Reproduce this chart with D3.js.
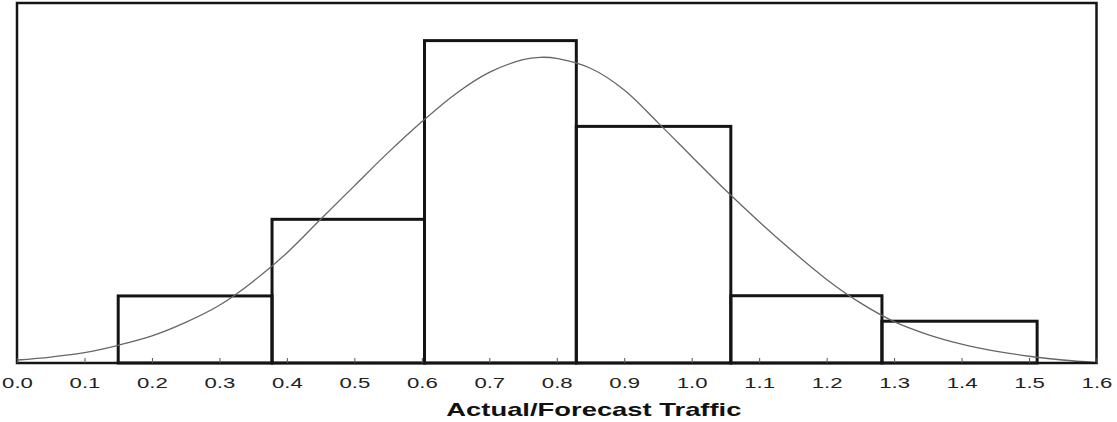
<!DOCTYPE html>
<html>
<head>
<meta charset="utf-8">
<script src="https://cdn.jsdelivr.net/npm/d3@7"></script>
<style>
  body { margin: 0; background: #fff; }
  svg { display: block; }
</style>
</head>
<body>
<div id="chart"></div>
<script>
// histogram bins (edges) and bar heights as density
var binEdges = [0.15, 0.378, 0.604, 0.829, 1.058, 1.282, 1.512]
var barDensity = [0.337, 0.722, 1.620, 1.189, 0.338, 0.210]

// fitted curve
var curveX = [0.0, 0.05, 0.1, 0.15, 0.2, 0.25, 0.3, 0.35, 0.4, 0.45, 0.5, 0.55, 0.6, 0.65, 0.7, 0.75, 0.775, 0.8, 0.85, 0.9, 0.95, 1.0, 1.05, 1.1, 1.15, 1.2, 1.25, 1.3, 1.35, 1.4, 1.45, 1.5, 1.55, 1.6]
var curveY = [0.015, 0.030, 0.052, 0.089, 0.136, 0.204, 0.290, 0.410, 0.553, 0.722, 0.890, 1.057, 1.212, 1.352, 1.460, 1.524, 1.536, 1.531, 1.481, 1.372, 1.208, 1.038, 0.869, 0.710, 0.560, 0.420, 0.302, 0.208, 0.143, 0.095, 0.060, 0.034, 0.015, 0.002]

var tickValues = [0, 0.1, 0.2, 0.3, 0.4, 0.5, 0.6, 0.7, 0.8, 0.9, 1.0, 1.1, 1.2, 1.3, 1.4, 1.5, 1.6]
var xTitle = "Actual/Forecast Traffic"

var svgWidth = 1117
var svgHeight = 422
var margin = { top: 3, right: 20.5, bottom: 59, left: 17 }
var chartWidth = svgWidth - margin.left - margin.right
var chartHeight = svgHeight - margin.top - margin.bottom

var svg = d3.select("#chart")
    .append("svg")
    .attr("width", svgWidth)
    .attr("height", svgHeight)

var chartGroup = svg.append("g")
    .attr("transform", `translate(${margin.left}, ${margin.top})`)

var xScale = d3.scaleLinear()
    .domain([0, 1.6])
    .range([0, chartWidth])

var yScale = d3.scaleLinear()
    .domain([0, 1.809])
    .range([chartHeight, 0])

// bars
var bins = barDensity.map((v, i) => ({ x0: binEdges[i], x1: binEdges[i + 1], y: v }))

chartGroup.append("g")
    .selectAll("rect")
    .data(bins)
    .enter()
    .append("rect")
    .attr("x", d => xScale(d.x0))
    .attr("y", d => yScale(d.y))
    .attr("width", d => xScale(d.x1) - xScale(d.x0))
    .attr("height", d => yScale(0) - yScale(d.y))
    .attr("fill", "none")
    .attr("stroke", "#141414")
    .attr("stroke-width", 3)

// curve
var line = d3.line()
    .x(d => xScale(d[0]))
    .y(d => yScale(d[1]))
    .curve(d3.curveCatmullRom)

chartGroup.append("path")
    .datum(curveX.map((x, i) => [x, curveY[i]]))
    .attr("d", line)
    .attr("fill", "none")
    .attr("stroke", "#666")
    .attr("stroke-width", 1.3)

// frame
chartGroup.append("rect")
    .attr("x", 0)
    .attr("y", 0)
    .attr("width", chartWidth)
    .attr("height", chartHeight)
    .attr("fill", "none")
    .attr("stroke", "#141414")
    .attr("stroke-width", 2.5)

// x axis with inward ticks
var xAxis = d3.axisBottom(xScale)
    .tickValues(tickValues)
    .tickSizeInner(-5)
    .tickSizeOuter(0)
    .tickFormat(d3.format(".1f"))

var axisG = chartGroup.append("g")
    .attr("transform", `translate(0, ${chartHeight})`)
    .call(xAxis)

axisG.select(".domain").remove()
axisG.selectAll(".tick line").attr("stroke", "#555").attr("stroke-width", 1)
axisG.selectAll(".tick text")
    .attr("y", 0)
    .attr("dy", 0)
    .attr("transform", "translate(0, 24.5) scale(1.43, 1)")
    .attr("font-family", "Liberation Sans, Arial, sans-serif")
    .attr("font-size", 15.5)
    .attr("fill", "#222")

// axis title
chartGroup.append("text")
    .attr("transform", `translate(${xScale(0.855)}, ${chartHeight + 53}) scale(1.48, 1)`)
    .attr("text-anchor", "middle")
    .attr("font-family", "Liberation Sans, Arial, sans-serif")
    .attr("font-weight", "bold")
    .attr("font-size", 18.5)
    .attr("fill", "#111")
    .text(xTitle)
</script>
</body>
</html>
